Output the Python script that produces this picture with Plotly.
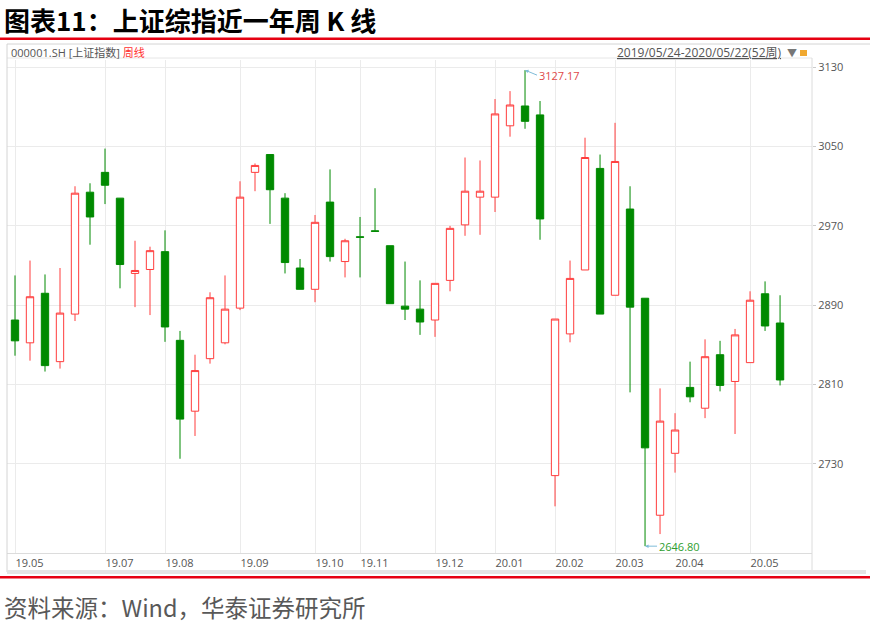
import plotly.graph_objects as go

# ---------------- data (weekly K-line, SSE Composite) ----------------
weeks = [
    "2019-05-24", "2019-05-31", "2019-06-06", "2019-06-14", "2019-06-21", "2019-06-28",
    "2019-07-05", "2019-07-12", "2019-07-19", "2019-07-26", "2019-08-02", "2019-08-09",
    "2019-08-16", "2019-08-23", "2019-08-30", "2019-09-06", "2019-09-12", "2019-09-20",
    "2019-09-27", "2019-09-30", "2019-10-11", "2019-10-18", "2019-10-25", "2019-11-01",
    "2019-11-08", "2019-11-15", "2019-11-22", "2019-11-29", "2019-12-06", "2019-12-13",
    "2019-12-20", "2019-12-27", "2020-01-03", "2020-01-10", "2020-01-17", "2020-01-23",
    "2020-02-07", "2020-02-14", "2020-02-21", "2020-02-28", "2020-03-06", "2020-03-13",
    "2020-03-20", "2020-03-27", "2020-04-03", "2020-04-10", "2020-04-17", "2020-04-24",
    "2020-04-30", "2020-05-08", "2020-05-15", "2020-05-22",
]
opens = [
    2875, 2852, 2902, 2833, 2881, 3004, 3024, 2998, 2922, 2926, 2944, 2854.5,
    2783, 2836, 2852, 2887, 3024, 3042, 2998, 2927.5, 2906, 2994, 2934, 2959,
    2965, 2950, 2889, 2886, 2875, 2915, 2971, 2999, 2999, 3071, 3091, 3082,
    2718, 2861, 2925.5, 3028, 2900, 2987, 2897, 2678, 2740.5, 2807, 2786, 2840,
    2813, 2832, 2901.5, 2872,
]
highs = [
    2920, 2935, 2921, 2927.5, 3010, 3013, 3048, 2998, 2955, 2949, 2965.5, 2864,
    2840, 2903, 2920, 3015, 3033, 3042, 3003, 2936.6, 2981, 3027, 2957, 2979,
    3008, 2950, 2934, 2915, 2912, 2970, 3039, 3036, 3098, 3106, 3127.17, 3096,
    2876, 2935, 3059, 3042, 3074, 3010, 2897, 2806, 2781, 2833, 2855.5, 2854,
    2866, 2904, 2914, 2900,
]
lows = [
    2839, 2834, 2823, 2826, 2874, 2951, 2992, 2907, 2888, 2880, 2853, 2735,
    2758, 2831, 2850.5, 2885, 3005, 2972, 2922, 2906, 2893, 2934, 2918, 2918,
    2964.5, 2891.5, 2875, 2860, 2858, 2904, 2960, 2961, 2984, 3060, 3068, 2956,
    2687, 2852.5, 2925.5, 2881, 2900, 2802, 2646.80, 2659, 2721, 2792, 2776, 2803,
    2760, 2832, 2864, 2809,
]
closes = [
    2854, 2898.5, 2829, 2882, 3003, 2979, 3011, 2931, 2925, 2945, 2868, 2775,
    2824, 2897.5, 2886, 2999, 3031, 3006.5, 2933, 2906, 2973.6, 2939, 2955, 2958.5,
    2964.5, 2891.5, 2886, 2873, 2912, 2967.5, 3005, 3005, 3083, 3092, 3075.5, 2977,
    2876, 2917, 3039, 2881, 3035, 2888, 2746, 2773, 2764, 2797.5, 2838, 2809,
    2860, 2895, 2869, 2814.5,
]
tick_weeks = ["2019-05-24", "2019-07-05", "2019-08-02", "2019-09-06", "2019-10-11",
              "2019-11-01", "2019-12-06", "2020-01-03", "2020-02-07", "2020-03-06",
              "2020-04-03", "2020-05-08"]
tick_labels = ["19.05", "19.07", "19.08", "19.09", "19.10", "19.11", "19.12",
               "20.01", "20.02", "20.03", "20.04", "20.05"]
y_ticks = [2730, 2810, 2890, 2970, 3050, 3130]

# ---------------- layout helpers (pixel -> paper) ----------------
W, H = 870, 625
PL, PR, PT, PB = 7, 812, 60, 553


def X(x):
    return (x - PL) / (PR - PL)


def Y(y):
    return (PB - y) / (PB - PT)


FONT = "Open Sans, Noto Sans CJK SC, sans-serif"
CJK = "Noto Sans CJK SC, sans-serif"

fig = go.Figure(go.Candlestick(
    x=weeks, open=opens, high=highs, low=lows, close=closes,
    increasing=dict(line=dict(color="#ff3c3c", width=1), fillcolor="#ffffff"),
    decreasing=dict(line=dict(color="#008a00", width=1), fillcolor="#008a00"),
    whiskerwidth=0, showlegend=False,
))

i_max = highs.index(max(highs))
i_min = lows.index(min(lows))

annotations = [
    dict(xref="paper", yref="paper", x=X(2), y=Y(19), xanchor="left", yanchor="middle",
         text="<b>图表11：上证综指近一年周 K 线</b>", showarrow=False,
         font=dict(family=CJK, size=26, color="#000000")),
    dict(xref="paper", yref="paper", x=X(2), y=Y(607), xanchor="left", yanchor="middle",
         text="资料来源：Wind，华泰证券研究所", showarrow=False,
         font=dict(family=CJK, size=23.5, color="#595959")),
    dict(xref="paper", yref="paper", x=X(9), y=Y(53), xanchor="left", yanchor="middle",
         text='000001.SH [上证指数] <span style="color:#ff3030">周线</span>', showarrow=False,
         font=dict(family=FONT, size=11, color="#555555")),
    dict(xref="paper", yref="paper", x=X(784), y=Y(53), xanchor="right", yanchor="middle",
         text="<u>2019/05/24-2020/05/22(52周)</u>", showarrow=False,
         font=dict(family=FONT, size=12, color="#555555")),
    dict(xref="paper", yref="paper", x=X(785), y=Y(53), xanchor="left", yanchor="middle",
         text="▼", showarrow=False, font=dict(family=FONT, size=10, color="#777777")),
    dict(x=weeks[i_max], y=highs[i_max], text=f"{highs[i_max]:.2f}",
         showarrow=True, arrowhead=2, arrowsize=0.7, arrowwidth=1, arrowcolor="#7fbcd8",
         ax=12, ay=5, xanchor="left", yanchor="middle",
         font=dict(family=FONT, size=11, color="#e04848")),
    dict(x=weeks[i_min], y=lows[i_min], text=f"{lows[i_min]:.2f}",
         showarrow=True, arrowhead=2, arrowsize=0.7, arrowwidth=1, arrowcolor="#7fbcd8",
         ax=12, ay=0, xanchor="left", yanchor="middle",
         font=dict(family=FONT, size=11, color="#2e9e2e")),
]

shapes = [
    # red rules
    dict(type="rect", xref="paper", yref="paper", x0=X(0), x1=X(870), y0=Y(40), y1=Y(37.5),
         fillcolor="#e60012", line=dict(width=0)),
    dict(type="rect", xref="paper", yref="paper", x0=X(0), x1=X(870), y0=Y(578.5), y1=Y(576),
         fillcolor="#e60012", line=dict(width=0)),
    # panel frame
    dict(type="line", xref="paper", yref="paper", x0=X(7), x1=X(870), y0=Y(44), y1=Y(44),
         line=dict(color="#d4d4d4", width=1)),
    dict(type="line", xref="paper", yref="paper", x0=X(7), x1=X(812), y0=Y(58), y1=Y(58),
         line=dict(color="#e6e6e6", width=1)),
    dict(type="line", xref="paper", yref="paper", x0=X(7), x1=X(7), y0=Y(44), y1=Y(572),
         line=dict(color="#d4d4d4", width=1)),
    dict(type="line", xref="paper", yref="paper", x0=X(812), x1=X(812), y0=Y(58), y1=Y(570),
         line=dict(color="#dcdcdc", width=1)),
    dict(type="rect", xref="paper", yref="paper", x0=X(7), x1=X(866), y0=Y(574), y1=Y(570),
         fillcolor="#e4e4e4", line=dict(width=0)),
    # lock icon
    dict(type="rect", xref="paper", yref="paper", x0=X(800), x1=X(807), y0=Y(56), y1=Y(50),
         fillcolor="#f0a830", line=dict(width=0)),
]

fig.update_layout(
    width=W, height=H,
    margin=dict(l=PL, r=W - PR, t=PT, b=H - PB),
    paper_bgcolor="white", plot_bgcolor="white",
    annotations=annotations, shapes=shapes,
    xaxis=dict(
        type="category", range=[-0.533, 53.13], rangeslider=dict(visible=False),
        tickmode="array", tickvals=tick_weeks, ticktext=tick_labels,
        ticklabelposition="outside right", ticks="",
        tickfont=dict(family=FONT, size=11, color="#555555"),
        showgrid=True, gridcolor="#ebebeb", gridwidth=1,
        showline=True, linecolor="#dcdcdc", linewidth=1,
        zeroline=False, fixedrange=True,
    ),
    yaxis=dict(
        side="right", range=[2639.9, 3137.4],
        tickmode="array", tickvals=y_ticks,
        ticks="outside", ticklen=3, tickcolor="#cccccc",
        tickfont=dict(family=FONT, size=11, color="#555555"),
        showgrid=True, gridcolor="#ebebeb", gridwidth=1,
        zeroline=False, showline=False, fixedrange=True,
    ),
    hovermode=False,
)

fig.write_html("out.html", config={"displayModeBar": False},
               post_script="document.body.style.margin='0';document.body.style.overflow='hidden';")
